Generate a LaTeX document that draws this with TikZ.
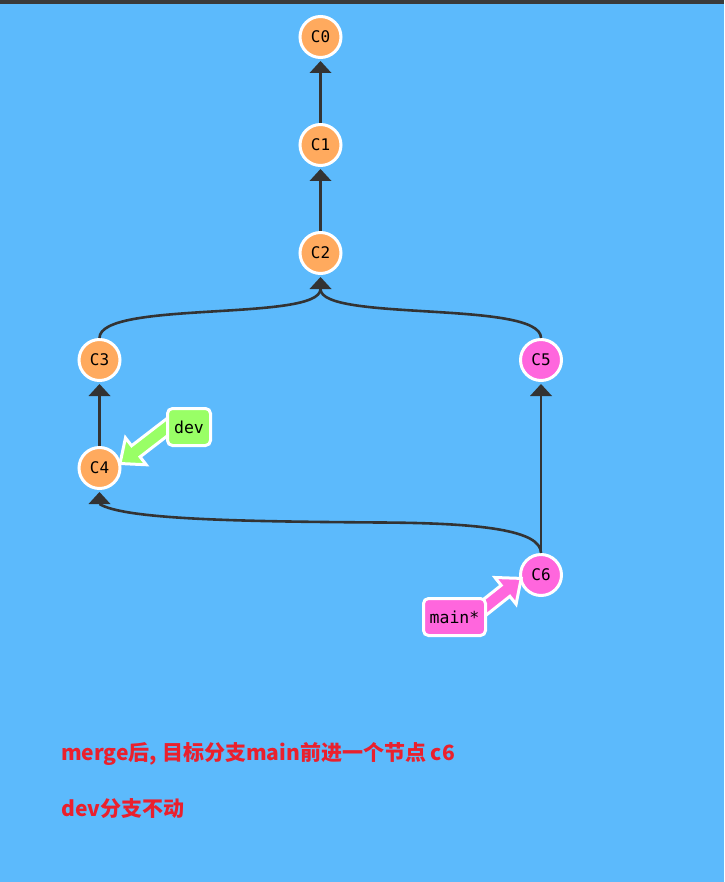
\documentclass[tikz,border=0pt]{standalone}
\usepackage{fontspec}
\newfontfamily\monof{DejaVu Sans Mono}
\newfontfamily\cjk{Noto Sans CJK SC}
\usetikzlibrary{calc}
\definecolor{bg}{HTML}{5CBAFC}
\definecolor{barc}{HTML}{3A3A3A}
\definecolor{edgec}{HTML}{333333}
\definecolor{orangec}{HTML}{FFAA5E}
\definecolor{pinkc}{HTML}{FF66DD}
\definecolor{greenc}{HTML}{99FF66}
\definecolor{redt}{RGB}{234,32,45}
\newcommand\uptip[1]{\fill[edgec] ($(#1.south)+(0,-2)$) -- ++(-11,-12) -- ++(22,0) -- cycle;}
\begin{document}
\begin{tikzpicture}[x=1pt,y=1pt,
  commit/.style={circle, draw=white, line width=3pt, minimum size=41pt, inner sep=0pt,
    font=\monof\fontsize{16}{16}\selectfont, text=black},
  link/.style={draw=edgec, line width=2.6pt},
  tagbox/.style={draw=white, line width=3pt, rounded corners=5pt, inner sep=0pt,
    minimum height=37pt, font=\monof\fontsize{16.5}{16.5}\selectfont, text=black},
  pointer/.style={draw=white, line width=3pt, line join=miter},
  note/.style={anchor=base west, text=redt, font=\cjk\bfseries\fontsize{21}{21}\selectfont, inner sep=0pt}
]
\useasboundingbox (0,0) rectangle (724,-882);
\fill[bg] (0,0) rectangle (724,-882);
\fill[barc] (0,0) rectangle (724,-4.5);

% commits
\node[commit, fill=orangec] (C0) at (320.5,-37) {C0};
\node[commit, fill=orangec] (C1) at (320.5,-145) {C1};
\node[commit, fill=orangec] (C2) at (320.5,-253) {C2};
\node[commit, fill=orangec] (C3) at (99.5,-360) {C3};
\node[commit, fill=pinkc]   (C5) at (541,-360) {C5};
\node[commit, fill=orangec] (C4) at (99.5,-468) {C4};
\node[commit, fill=pinkc]   (C6) at (541,-575) {C6};

% connectors
\draw[link] (C1.north) -- ($(C0.south)+(0,-14)$);
\draw[link] (C2.north) -- ($(C1.south)+(0,-14)$);
\draw[link] (C4.north) -- ($(C3.south)+(0,-14)$);
\draw[link] (C6.north) -- ($(C5.south)+(0,-14)$);
\draw[link] (C3.north) .. controls (99.5,-300) and (320.5,-322) .. ($(C2.south)+(0,-14)$);
\draw[link] (C5.north) .. controls (541,-300) and (320.5,-322) .. ($(C2.south)+(0,-14)$);
\draw[link] (C6.north) .. controls (541,-530) and (480,-523) .. (380,-522.5)
   .. controls (250,-521.5) and (125,-520) .. ($(C4.south)+(0,-14)$);
\uptip{C0}
\uptip{C1}
\uptip{C2}
\uptip{C3}
\uptip{C4}
\uptip{C5}

% branch pointers
\begin{scope}[shift={(120,-463.5)}, rotate=37.6]
\filldraw[pointer, fill=greenc] (0,0) -- (20,17) -- (20,7) -- (75,7) -- (75,-7) -- (20,-7) -- (20,-17) -- cycle;
\end{scope}
\begin{scope}[shift={(521.2,-578.4)}, rotate=218.4]
\filldraw[pointer, fill=pinkc] (0,0) -- (20,17) -- (20,7) -- (70,7) -- (70,-7) -- (20,-7) -- (20,-17) -- cycle;
\end{scope}

\node[tagbox, fill=greenc, minimum width=43pt] (dev) at (189,-427) {dev};
\node[tagbox, fill=pinkc, minimum width=62pt] (main) at (454.5,-617) {main*};

% notes
\node[note] (n1) at (61,-760) {merge后, 目标分支main前进一个节点 c6};
\node[note] (n2) at (61,-816) {dev分支不动};
\end{tikzpicture}
\end{document}
